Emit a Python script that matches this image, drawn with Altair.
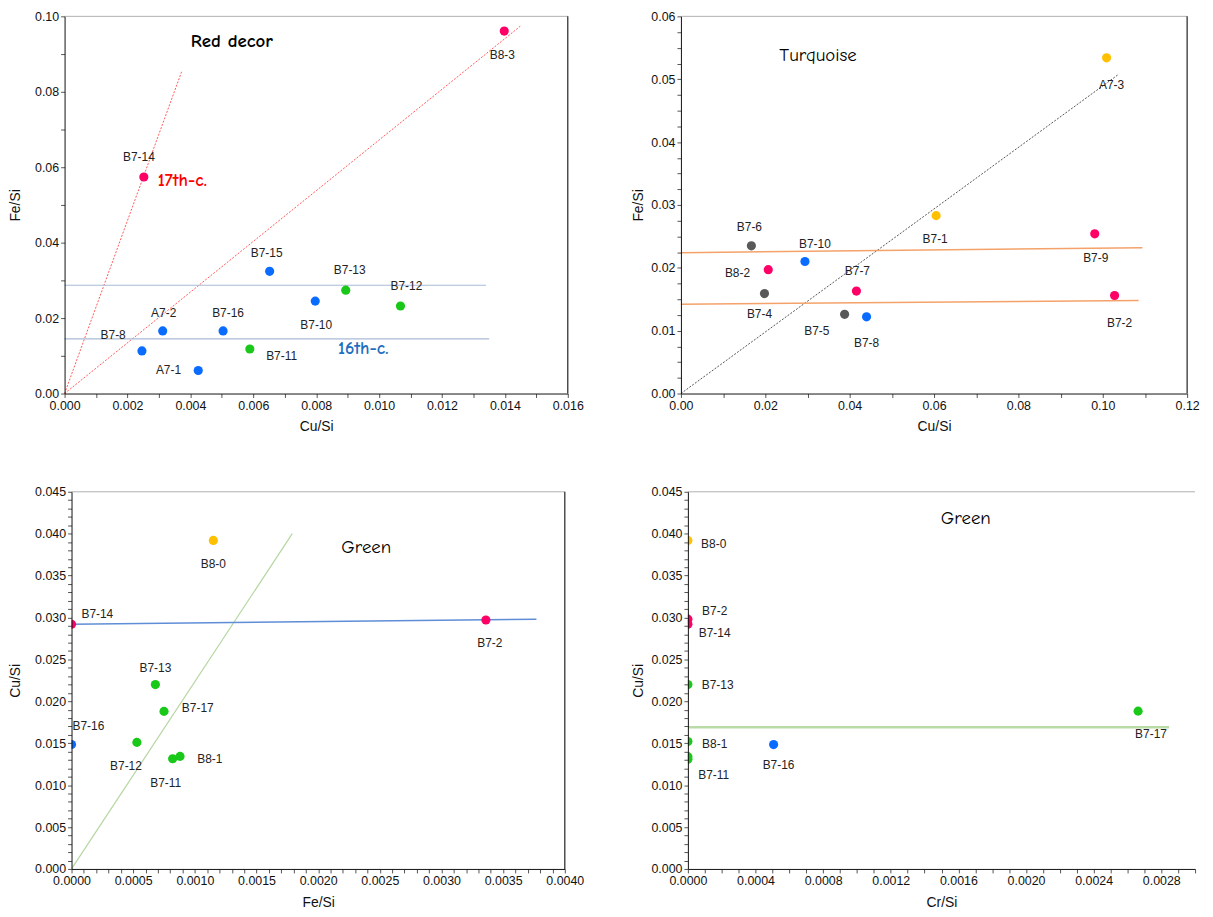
import altair as alt
import pandas as pd

FONT = "Arial, Liberation Sans, sans-serif"
COMIC = "Comic Sans MS, Comic Neue, DejaVu Sans, sans-serif"

GROUP_DOMAIN = ["P", "B", "G", "Y", "K"]
GROUP_COLORS = ["#FF0066", "#0A6CFF", "#19C819", "#FFC000", "#595959"]

# ---------------- Panel 1 : Red decor (Cu/Si vs Fe/Si)
P1_IDS = ["B8-3", "B7-14", "B7-15", "B7-13", "B7-12", "B7-10", "A7-2", "B7-16", "B7-8", "A7-1", "B7-11"]
P1_CU = [0.01398, 0.00252, 0.00652, 0.00894, 0.01068, 0.00797, 0.00312, 0.00504, 0.00246, 0.00425, 0.00589]
P1_FE = [0.0961, 0.0574, 0.0324, 0.0274, 0.0232, 0.0245, 0.0166, 0.0166, 0.0113, 0.0061, 0.0118]
P1_GRP = ["P", "P", "B", "G", "G", "B", "B", "B", "B", "B", "G"]
P1_DX = [-2, -5, -3, 4, 6, 1, 1, 5, -29, -30, 32]
P1_DY = [24, -20, -18, -20, -20, 24, -18, -18, -16, 0, 7]
P1_SEG_X1 = [0.0, 0.0, 0.0, 0.0]
P1_SEG_Y1 = [0.0, 0.0, 0.0287, 0.01447]
P1_SEG_X2 = [0.00372, 0.01449, 0.0134, 0.0135]
P1_SEG_Y2 = [0.0853, 0.0974, 0.0287, 0.01447]
P1_SEG_STYLE = ["reddot", "reddot", "steel", "steel"]
P1_NOTE = ["Red decor", "17th-c.", "16th-c."]
P1_NOTE_X = [0.00532, 0.00296, 0.00869]
P1_NOTE_Y = [0.0934, 0.0563, 0.0118]
P1_NOTE_STYLE = ["title_bold", "red_note", "blue_note"]

# ---------------- Panel 2 : Turquoise
P2_IDS = ["A7-3", "B7-1", "B7-9", "B7-2", "B7-6", "B8-2", "B7-10", "B7-4", "B7-7", "B7-5", "B7-8"]
P2_CU = [0.1009, 0.0605, 0.0981, 0.1028, 0.0167, 0.0207, 0.0294, 0.0198, 0.0416, 0.0388, 0.0440]
P2_FE = [0.0534, 0.0283, 0.0254, 0.0156, 0.0235, 0.0197, 0.0210, 0.0159, 0.0163, 0.0126, 0.0122]
P2_GRP = ["Y", "Y", "P", "P", "K", "P", "B", "K", "P", "K", "B"]
P2_DX = [5, -1, 1, 5, -2, -31, 10, -5, 1, -28, 0]
P2_DY = [27, 24, 24, 28, -19, 3, -18, 21, -20, 17, 26]
P2_SEG_X1 = [0.0, 0.0, 0.0]
P2_SEG_Y1 = [0.0, 0.0224, 0.0142]
P2_SEG_X2 = [0.1038, 0.1094, 0.1085]
P2_SEG_Y2 = [0.0508, 0.0232, 0.0148]
P2_SEG_STYLE = ["blackdot", "orange", "orange"]
P2_NOTE = ["Turquoise"]
P2_NOTE_X = [0.0325]
P2_NOTE_Y = [0.0538]
P2_NOTE_STYLE = ["title"]

# ---------------- Panel 3 : Green (Fe/Si vs Cu/Si)
P3_IDS = ["B8-0", "B7-14", "B7-2", "B7-13", "B7-17", "B7-16", "B7-12", "B7-11", "B8-1"]
P3_FE = [0.00115, 0.0, 0.00336, 0.00068, 0.00075, 0.0, 0.00053, 0.00082, 0.00088]
P3_CU = [0.0392, 0.0292, 0.0297, 0.0220, 0.0188, 0.01485, 0.0151, 0.01315, 0.01343]
P3_GRP = ["Y", "P", "P", "G", "G", "B", "G", "G", "G"]
P3_DX = [0, 26, 4, 0, 34, 17, -11, -7, 30]
P3_DY = [24, -10, 23, -17, -3, -19, 24, 24, 3]
P3_SEG_X1 = [0.0, 0.0]
P3_SEG_Y1 = [0.0, 0.0292]
P3_SEG_X2 = [0.00179, 0.00377]
P3_SEG_Y2 = [0.0400, 0.0298]
P3_SEG_STYLE = ["green", "blue"]
P3_NOTE = ["Green"]
P3_NOTE_X = [0.00239]
P3_NOTE_Y = [0.0384]
P3_NOTE_STYLE = ["title"]

# ---------------- Panel 4 : Green (Cr/Si vs Cu/Si)
P4_IDS = ["B8-0", "B7-2", "B7-14", "B7-13", "B8-1", "B7-11", "B7-12", "B7-16", "B7-17"]
P4_CR = [0.0, 0.0, 0.0, 0.0, 0.0, 0.0, 0.0, 0.000507, 0.002663]
P4_CU = [0.0392, 0.0298, 0.0292, 0.0220, 0.0152, 0.0134, 0.0131, 0.01484, 0.01883]
P4_GRP = ["Y", "P", "P", "G", "G", "G", "G", "B", "G"]
P4_DX = [26, 27, 27, 30, 27, 26, None, 5, 13]
P4_DY = [4, -8, 9, 0, 2, 19, None, 21, 23]
P4_SEG_X1 = [0.0]
P4_SEG_Y1 = [0.0169]
P4_SEG_X2 = [0.002846]
P4_SEG_Y2 = [0.0169]
P4_SEG_STYLE = ["greenthick"]
P4_NOTE = ["Green"]
P4_NOTE_X = [0.001644]
P4_NOTE_Y = [0.0419]
P4_NOTE_STYLE = ["title"]

SEG_STYLES = {
    "reddot": dict(color="#FF5A5A", strokeWidth=1, strokeDash=[2, 1.5]),
    "steel": dict(color="#A9BAD6", strokeWidth=1.2),
    "blackdot": dict(color="#555555", strokeWidth=1, strokeDash=[2, 1.5]),
    "orange": dict(color="#F4A26A", strokeWidth=1.5),
    "green": dict(color="#B5D6A0", strokeWidth=1.2),
    "blue": dict(color="#5F8ED6", strokeWidth=1.4),
    "greenthick": dict(color="#B9DCA6", strokeWidth=2.5),
}
NOTE_STYLES = {
    "title_bold": dict(font=COMIC, fontSize=19, fontWeight="bold", color="#000000", align="center"),
    "title": dict(font=COMIC, fontSize=19, fontWeight="normal", color="#000000", align="center"),
    "red_note": dict(font=COMIC, fontSize=18, fontWeight="bold", color="#FF0000", align="left"),
    "blue_note": dict(font=COMIC, fontSize=18, fontWeight="bold", color="#1F6FC0", align="left"),
}


def make_axis(title, dmax, major, minor, fmt, title_pad, orient, offset=0):
    n = int(round(dmax / minor))
    vals = [round(i * minor, 8) for i in range(n + 1)]
    expr = (f"abs(datum.value/{major} - round(datum.value/{major})) < 0.001 "
            f"? format(datum.value, '{fmt}') : ''")
    return alt.Axis(title=title, values=vals, labelExpr=expr, labelOverlap=False,
                    labelFlush=False, grid=False, tickSize=4, tickColor="#555555",
                    domainColor="#111111", labelColor="#111111", labelFont=FONT,
                    labelFontSize=12.5, titleFont=FONT, titleFontSize=14,
                    titleFontWeight="normal", titleColor="#111111",
                    titlePadding=title_pad, orient=orient, labelPadding=2,
                    offset=offset, zindex=1)


def panel(ids, xs, ys, grps, dxs, dys, sx1, sy1, sx2, sy2, sstyle,
          notes, nx, ny, nstyle, xinfo, yinfo, width, height, right_border, inset=0):
    xmax = xinfo[1]
    ymax = yinfo[1]
    if inset:
        xs_ = alt.Scale(domain=[0, xmax], nice=False, zero=False, range=[inset, width])
    else:
        xs_ = alt.Scale(domain=[0, xmax], nice=False, zero=False)
    ys_ = alt.Scale(domain=[0, ymax], nice=False, zero=False)
    xax = make_axis(*xinfo, orient="bottom")
    yax = make_axis(*yinfo, orient="left", offset=-inset)

    def X(f="x"):
        return alt.X(f"{f}:Q", scale=xs_, axis=xax)

    def Y(f="y"):
        return alt.Y(f"{f}:Q", scale=ys_, axis=yax)

    layers = []
    border = pd.DataFrame({"x": [0.0], "x2": [xmax], "y": [ymax], "y0": [0.0]})
    layers.append(alt.Chart(border).mark_rule(color="#B0B0B0", strokeWidth=1).encode(
        x=X(), x2="x2:Q", y=Y()))
    if right_border:
        layers.append(alt.Chart(border).mark_rule(color="#222222", strokeWidth=1.2).encode(
            x=X("x2"), y=Y("y0"), y2="y:Q"))

    seg = pd.DataFrame({"x": sx1, "y": sy1, "x2": sx2, "y2": sy2, "s": sstyle})
    for name in dict.fromkeys(sstyle):
        layers.append(alt.Chart(seg[seg.s == name]).mark_rule(**SEG_STYLES[name]).encode(
            x=X(), y=Y(), x2="x2:Q", y2="y2:Q"))

    pts = pd.DataFrame({"id": ids, "x": xs, "y": ys, "g": grps})
    layers.append(alt.Chart(pts).mark_circle(size=85, opacity=1, clip=True).encode(
        x=X(), y=Y(),
        color=alt.Color("g:N", scale=alt.Scale(domain=GROUP_DOMAIN, range=GROUP_COLORS), legend=None)))

    if inset:
        # white mask left of the shifted y axis, so points on x=0 are cut in half
        layers.append(alt.Chart(border).mark_rect(color="white").encode(
            x=alt.value(0), x2=alt.value(inset), y=alt.value(0), y2=alt.value(height)))

    for i in range(len(ids)):
        if dxs[i] is None:
            continue
        layers.append(alt.Chart(pts.iloc[[i]]).mark_text(
            dx=dxs[i], dy=dys[i], font=FONT, fontSize=12, color="#222222",
            align="center", baseline="middle").encode(x=X(), y=Y(), text="id:N"))

    nt = pd.DataFrame({"t": notes, "x": nx, "y": ny, "s": nstyle})
    for i in range(len(notes)):
        layers.append(alt.Chart(nt.iloc[[i]]).mark_text(baseline="middle", **NOTE_STYLES[nstyle[i]]).encode(
            x=X(), y=Y(), text="t:N"))

    return alt.layer(*layers).properties(width=width, height=height)


p1 = panel(P1_IDS, P1_CU, P1_FE, P1_GRP, P1_DX, P1_DY,
           P1_SEG_X1, P1_SEG_Y1, P1_SEG_X2, P1_SEG_Y2, P1_SEG_STYLE,
           P1_NOTE, P1_NOTE_X, P1_NOTE_Y, P1_NOTE_STYLE,
           ("Cu/Si", 0.016, 0.002, 0.001, ".3f", 8),
           ("Fe/Si", 0.10, 0.02, 0.01, ".2f", 12), 507, 380, True)
p2 = panel(P2_IDS, P2_CU, P2_FE, P2_GRP, P2_DX, P2_DY,
           P2_SEG_X1, P2_SEG_Y1, P2_SEG_X2, P2_SEG_Y2, P2_SEG_STYLE,
           P2_NOTE, P2_NOTE_X, P2_NOTE_Y, P2_NOTE_STYLE,
           ("Cu/Si", 0.12, 0.02, 0.01, ".2f", 8),
           ("Fe/Si", 0.06, 0.01, 0.0025, ".2f", 5), 510, 380, True)
p3 = panel(P3_IDS, P3_FE, P3_CU, P3_GRP, P3_DX, P3_DY,
           P3_SEG_X1, P3_SEG_Y1, P3_SEG_X2, P3_SEG_Y2, P3_SEG_STYLE,
           P3_NOTE, P3_NOTE_X, P3_NOTE_Y, P3_NOTE_STYLE,
           ("Fe/Si", 0.004, 0.0005, 0.0001, ".4f", 8),
           ("Cu/Si", 0.045, 0.005, 0.001, ".3f", 12), 504, 380, True, inset=7)
p4 = panel(P4_IDS, P4_CR, P4_CU, P4_GRP, P4_DX, P4_DY,
           P4_SEG_X1, P4_SEG_Y1, P4_SEG_X2, P4_SEG_Y2, P4_SEG_STYLE,
           P4_NOTE, P4_NOTE_X, P4_NOTE_Y, P4_NOTE_STYLE,
           ("Cr/Si", 0.003, 0.0004, 0.0001, ".4f", 8),
           ("Cu/Si", 0.045, 0.005, 0.001, ".3f", 5), 511, 380, False)

chart = alt.concat(p1, p2, p3, p4, columns=2, align="none",
                   spacing={"row": 52, "column": 47}).configure_view(stroke=None).properties(
    padding={"left": 0, "top": -1, "right": 5, "bottom": 5})

chart.save("out.html", embed_options={"renderer": "svg", "actions": False})
